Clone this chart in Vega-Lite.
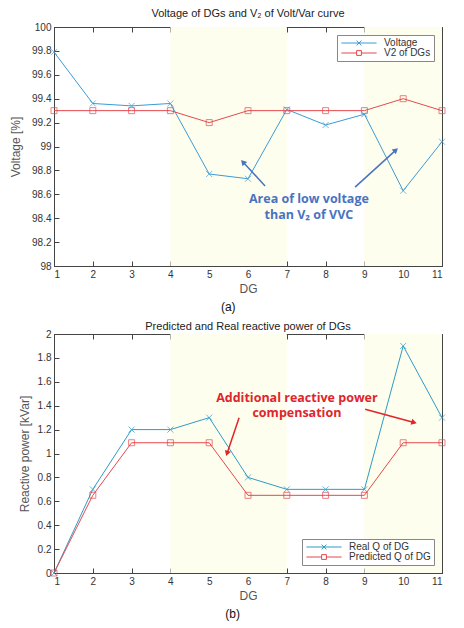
{
  "$schema": "https://vega.github.io/schema/vega-lite/v6.json",
  "padding": {"left": 9, "top": 7, "right": 5, "bottom": 2},
  "background": "white",
  "datasets": {
    "volt": [
      {"DG": 1, "series": "Voltage", "value": 99.79},
      {"DG": 2, "series": "Voltage", "value": 99.36},
      {"DG": 3, "series": "Voltage", "value": 99.34},
      {"DG": 4, "series": "Voltage", "value": 99.36},
      {"DG": 5, "series": "Voltage", "value": 98.77},
      {"DG": 6, "series": "Voltage", "value": 98.73},
      {"DG": 7, "series": "Voltage", "value": 99.31},
      {"DG": 8, "series": "Voltage", "value": 99.18},
      {"DG": 9, "series": "Voltage", "value": 99.27},
      {"DG": 10, "series": "Voltage", "value": 98.63},
      {"DG": 11, "series": "Voltage", "value": 99.04},
      {"DG": 1, "series": "V2 of DGs", "value": 99.3},
      {"DG": 2, "series": "V2 of DGs", "value": 99.3},
      {"DG": 3, "series": "V2 of DGs", "value": 99.3},
      {"DG": 4, "series": "V2 of DGs", "value": 99.3},
      {"DG": 5, "series": "V2 of DGs", "value": 99.2},
      {"DG": 6, "series": "V2 of DGs", "value": 99.3},
      {"DG": 7, "series": "V2 of DGs", "value": 99.3},
      {"DG": 8, "series": "V2 of DGs", "value": 99.3},
      {"DG": 9, "series": "V2 of DGs", "value": 99.3},
      {"DG": 10, "series": "V2 of DGs", "value": 99.4},
      {"DG": 11, "series": "V2 of DGs", "value": 99.3}
    ],
    "react": [
      {"DG": 1, "series": "Real Q of DG", "q": 0},
      {"DG": 2, "series": "Real Q of DG", "q": 0.7},
      {"DG": 3, "series": "Real Q of DG", "q": 1.2},
      {"DG": 4, "series": "Real Q of DG", "q": 1.2},
      {"DG": 5, "series": "Real Q of DG", "q": 1.3},
      {"DG": 6, "series": "Real Q of DG", "q": 0.8},
      {"DG": 7, "series": "Real Q of DG", "q": 0.7},
      {"DG": 8, "series": "Real Q of DG", "q": 0.7},
      {"DG": 9, "series": "Real Q of DG", "q": 0.7},
      {"DG": 10, "series": "Real Q of DG", "q": 1.9},
      {"DG": 11, "series": "Real Q of DG", "q": 1.3},
      {"DG": 1, "series": "Predicted Q of DG", "q": 0},
      {"DG": 2, "series": "Predicted Q of DG", "q": 0.65},
      {"DG": 3, "series": "Predicted Q of DG", "q": 1.09},
      {"DG": 4, "series": "Predicted Q of DG", "q": 1.09},
      {"DG": 5, "series": "Predicted Q of DG", "q": 1.09},
      {"DG": 6, "series": "Predicted Q of DG", "q": 0.65},
      {"DG": 7, "series": "Predicted Q of DG", "q": 0.65},
      {"DG": 8, "series": "Predicted Q of DG", "q": 0.65},
      {"DG": 9, "series": "Predicted Q of DG", "q": 0.65},
      {"DG": 10, "series": "Predicted Q of DG", "q": 1.09},
      {"DG": 11, "series": "Predicted Q of DG", "q": 1.09}
    ],
    "shade": [
      {"x1": 4, "x2": 7},
      {"x1": 9, "x2": 11}
    ],
    "arrowsA": [
      {"id": "a1", "x": 6.44, "y": 98.67, "x2": 5.87, "y2": 98.87},
      {"id": "a2", "x": 8.76, "y": 98.66, "x2": 9.81, "y2": 98.97}
    ],
    "arrowsB": [
      {"id": "b1", "x": 5.77, "y": 1.3, "x2": 5.46, "y2": 1.0},
      {"id": "b2", "x": 9.02, "y": 1.37, "x2": 10.28, "y2": 1.26}
    ],
    "textA": [
      {"x": 7.57, "y": 98.56, "label": "Area of low voltage"},
      {"x": 7.57, "y": 98.43, "label": "than V₂ of VVC"}
    ],
    "textB": [
      {"x": 7.26, "y": 1.465, "label": "Additional reactive power"},
      {"x": 7.26, "y": 1.335, "label": "compensation"}
    ]
  },
  "config": {
    "font": "Liberation Sans",
    "view": {"stroke": "#444", "strokeWidth": 1},
    "axis": {
      "grid": false,
      "domainColor": "#444",
      "tickColor": "#444",
      "tickSize": -5,
      "labelPadding": 8,
      "labelColor": "#333",
      "labelFont": "Liberation Sans",
      "labelFontSize": 10,
      "titleFont": "Liberation Sans",
      "titleFontSize": 12,
      "titleFontWeight": "normal",
      "titleColor": "#555"
    },
    "title": {"font": "Liberation Sans", "fontSize": 11, "fontWeight": "normal", "color": "#222"},
    "legend": {
      "labelFont": "Liberation Sans",
      "labelFontSize": 10,
      "labelColor": "#333",
      "strokeColor": "#888",
      "fillColor": "white",
      "padding": 3,
      "symbolSize": 64,
      "symbolOffset": 14,
      "labelOffset": 20,
      "rowPadding": 0
    }
  },
  "spacing": 7,
  "resolve": {"scale": {"color": "independent", "x": "independent", "y": "independent"}, "legend": {"color": "independent"}},
  "vconcat": [
    {
      "title": {"text": "(a)", "orient": "bottom", "anchor": "middle", "fontSize": 12, "color": "#111", "offset": 7},
      "resolve": {"scale": {"color": "independent"}, "legend": {"color": "independent"}},
      "vconcat": [
        {
          "title": {"text": "Voltage of DGs and V₂ of Volt/Var curve", "offset": 3},
          "width": 388,
          "height": 239,
          "resolve": {"axis": {"x": "independent", "y": "independent"}},
          "layer": [
            {
              "data": {"name": "shade"},
              "mark": {"type": "rect", "color": "#fefeee"},
              "encoding": {
                "x": {"field": "x1", "type": "quantitative", "scale": {"domain": [1, 11], "nice": false},
                      "axis": {"values": [1,2,3,4,5,6,7,8,9,10,11], "format": "d", "title": "DG"}},
                "x2": {"field": "x2"}
              }
            },
            {
              "data": {"name": "volt"},
              "mark": {"type": "line", "strokeWidth": 1},
              "encoding": {
                "x": {"field": "DG", "type": "quantitative", "axis": null},
                "y": {"field": "value", "type": "quantitative", "scale": {"domain": [98, 100], "nice": false, "zero": false},
                      "axis": {"values": [98,98.2,98.4,98.6,98.8,99,99.2,99.4,99.6,99.8,100], "format": "~g", "title": "Voltage [%]", "titlePadding": 9}},
                "color": {"field": "series", "type": "nominal",
                          "scale": {"domain": ["Voltage", "V2 of DGs"], "range": ["#3c9bd6", "#e5484d"]},
                          "legend": {"orient": "top-right", "offset": 8, "title": null,
                                     "encode": {"symbols": {"update": {
                                        "shape": {"signal": "datum.value === 'Voltage' ? 'M-4.4,0H4.4M-0.6,-0.6L0.6,0.6M-0.6,0.6L0.6,-0.6' : 'M-4.4,0H-0.6M0.6,0H4.4M-0.6,-0.6H0.6V0.6H-0.6Z'"},
                                        "fill": {"value": "transparent"},
                                        "strokeWidth": {"value": 1}}}}}}
              }
            },
            {
              "data": {"name": "volt"},
              "transform": [{"filter": "datum.series === 'Voltage'"}],
              "mark": {"type": "point", "filled": false, "strokeWidth": 1, "size": 36, "color": "#3c9bd6", "shape": "M-1,-1L1,1M-1,1L1,-1"},
              "encoding": {
                "x": {"field": "DG", "type": "quantitative", "axis": null},
                "y": {"field": "value", "type": "quantitative", "axis": null}
              }
            },
            {
              "data": {"name": "volt"},
              "transform": [{"filter": "datum.series === 'V2 of DGs'"}],
              "mark": {"type": "point", "filled": false, "strokeWidth": 1, "size": 36, "color": "#e5484d", "shape": "square"},
              "encoding": {
                "x": {"field": "DG", "type": "quantitative", "axis": null},
                "y": {"field": "value", "type": "quantitative", "axis": null}
              }
            },
            {
              "data": {"name": "volt"},
              "mark": {"type": "point", "opacity": 0},
              "encoding": {
                "x": {"field": "DG", "type": "quantitative", "axis": {"orient": "top", "labels": false, "title": null, "domain": false, "values": [1,2,3,4,5,6,7,8,9,10,11]}},
                "y": {"field": "value", "type": "quantitative", "axis": {"orient": "right", "labels": false, "title": null, "domain": false, "values": [98,98.2,98.4,98.6,98.8,99,99.2,99.4,99.6,99.8,100]}}
              }
            },
            {
              "data": {"name": "arrowsA"},
              "mark": {"type": "rule", "color": "#4a72c0", "strokeWidth": 1.5},
              "encoding": {
                "x": {"field": "x", "type": "quantitative", "axis": null},
                "y": {"field": "y", "type": "quantitative", "axis": null},
                "x2": {"field": "x2"},
                "y2": {"field": "y2"}
              }
            },
            {
              "data": {"name": "arrowsA"},
              "transform": [{"filter": "datum.id === 'a1'"}],
              "mark": {"type": "point", "shape": "triangle-up", "filled": true, "color": "#4a72c0", "size": 40, "angle": 317, "opacity": 1},
              "encoding": {
                "x": {"field": "x2", "type": "quantitative", "axis": null},
                "y": {"field": "y2", "type": "quantitative", "axis": null}
              }
            },
            {
              "data": {"name": "arrowsA"},
              "transform": [{"filter": "datum.id === 'a2'"}],
              "mark": {"type": "point", "shape": "triangle-up", "filled": true, "color": "#4a72c0", "size": 40, "angle": 48, "opacity": 1},
              "encoding": {
                "x": {"field": "x2", "type": "quantitative", "axis": null},
                "y": {"field": "y2", "type": "quantitative", "axis": null}
              }
            },
            {
              "data": {"name": "textA"},
              "mark": {"type": "text", "font": "Open Sans", "fontWeight": "bold", "fontSize": 12.5, "color": "#4a72c0"},
              "encoding": {
                "x": {"field": "x", "type": "quantitative", "axis": null},
                "y": {"field": "y", "type": "quantitative", "axis": null},
                "text": {"field": "label"}
              }
            }
          ]
        }
      ]
    },
    {
      "title": {"text": "(b)", "orient": "bottom", "anchor": "middle", "fontSize": 12, "color": "#111", "offset": 7},
      "resolve": {"scale": {"color": "independent"}, "legend": {"color": "independent"}},
      "vconcat": [
        {
          "title": {"text": "Predicted and Real reactive power of DGs", "offset": -3},
          "width": 388,
          "height": 239,
          "resolve": {"axis": {"x": "independent", "y": "independent"}},
          "layer": [
            {
              "data": {"name": "shade"},
              "mark": {"type": "rect", "color": "#fefeee"},
              "encoding": {
                "x": {"field": "x1", "type": "quantitative", "scale": {"domain": [1, 11], "nice": false},
                      "axis": {"values": [1,2,3,4,5,6,7,8,9,10,11], "format": "d", "title": "DG"}},
                "x2": {"field": "x2"}
              }
            },
            {
              "data": {"name": "react"},
              "mark": {"type": "line", "strokeWidth": 1},
              "encoding": {
                "x": {"field": "DG", "type": "quantitative", "axis": null},
                "y": {"field": "q", "type": "quantitative", "scale": {"domain": [0, 2], "nice": false},
                      "axis": {"values": [0,0.2,0.4,0.6,0.8,1,1.2,1.4,1.6,1.8,2], "format": "~g", "title": "Reactive power [kVar]", "titlePadding": 6}},
                "color": {"field": "series", "type": "nominal",
                          "scale": {"domain": ["Real Q of DG", "Predicted Q of DG"], "range": ["#2e9bc6", "#e5484d"]},
                          "legend": {"orient": "bottom-right", "offset": 8, "title": null,
                                     "encode": {"symbols": {"update": {
                                        "shape": {"signal": "datum.value === 'Real Q of DG' ? 'M-4.4,0H4.4M-0.6,-0.6L0.6,0.6M-0.6,0.6L0.6,-0.6' : 'M-4.4,0H-0.6M0.6,0H4.4M-0.6,-0.6H0.6V0.6H-0.6Z'"},
                                        "fill": {"value": "transparent"},
                                        "strokeWidth": {"value": 1}}}}}}
              }
            },
            {
              "data": {"name": "react"},
              "transform": [{"filter": "datum.series === 'Real Q of DG'"}],
              "mark": {"type": "point", "filled": false, "strokeWidth": 1, "size": 36, "color": "#2e9bc6", "shape": "M-1,-1L1,1M-1,1L1,-1"},
              "encoding": {
                "x": {"field": "DG", "type": "quantitative", "axis": null},
                "y": {"field": "q", "type": "quantitative", "axis": null}
              }
            },
            {
              "data": {"name": "react"},
              "transform": [{"filter": "datum.series === 'Predicted Q of DG'"}],
              "mark": {"type": "point", "filled": false, "strokeWidth": 1, "size": 36, "color": "#e5484d", "shape": "square"},
              "encoding": {
                "x": {"field": "DG", "type": "quantitative", "axis": null},
                "y": {"field": "q", "type": "quantitative", "axis": null}
              }
            },
            {
              "data": {"name": "react"},
              "mark": {"type": "point", "opacity": 0},
              "encoding": {
                "x": {"field": "DG", "type": "quantitative", "axis": {"orient": "top", "labels": false, "title": null, "domain": false, "values": [1,2,3,4,5,6,7,8,9,10,11]}},
                "y": {"field": "q", "type": "quantitative", "axis": {"orient": "right", "labels": false, "title": null, "domain": false, "values": [0,0.2,0.4,0.6,0.8,1,1.2,1.4,1.6,1.8,2]}}
              }
            },
            {
              "data": {"name": "arrowsB"},
              "mark": {"type": "rule", "color": "#e0252b", "strokeWidth": 1.5},
              "encoding": {
                "x": {"field": "x", "type": "quantitative", "axis": null},
                "y": {"field": "y", "type": "quantitative", "axis": null},
                "x2": {"field": "x2"},
                "y2": {"field": "y2"}
              }
            },
            {
              "data": {"name": "arrowsB"},
              "transform": [{"filter": "datum.id === 'b1'"}],
              "mark": {"type": "point", "shape": "triangle-up", "filled": true, "color": "#e0252b", "size": 40, "angle": 198, "opacity": 1},
              "encoding": {
                "x": {"field": "x2", "type": "quantitative", "axis": null},
                "y": {"field": "y2", "type": "quantitative", "axis": null}
              }
            },
            {
              "data": {"name": "arrowsB"},
              "transform": [{"filter": "datum.id === 'b2'"}],
              "mark": {"type": "point", "shape": "triangle-up", "filled": true, "color": "#e0252b", "size": 40, "angle": 106, "opacity": 1},
              "encoding": {
                "x": {"field": "x2", "type": "quantitative", "axis": null},
                "y": {"field": "y2", "type": "quantitative", "axis": null}
              }
            },
            {
              "data": {"name": "textB"},
              "mark": {"type": "text", "font": "Open Sans", "fontWeight": "bold", "fontSize": 12.5, "color": "#e0252b"},
              "encoding": {
                "x": {"field": "x", "type": "quantitative", "axis": null},
                "y": {"field": "y", "type": "quantitative", "axis": null},
                "text": {"field": "label"}
              }
            }
          ]
        }
      ]
    }
  ]
}
